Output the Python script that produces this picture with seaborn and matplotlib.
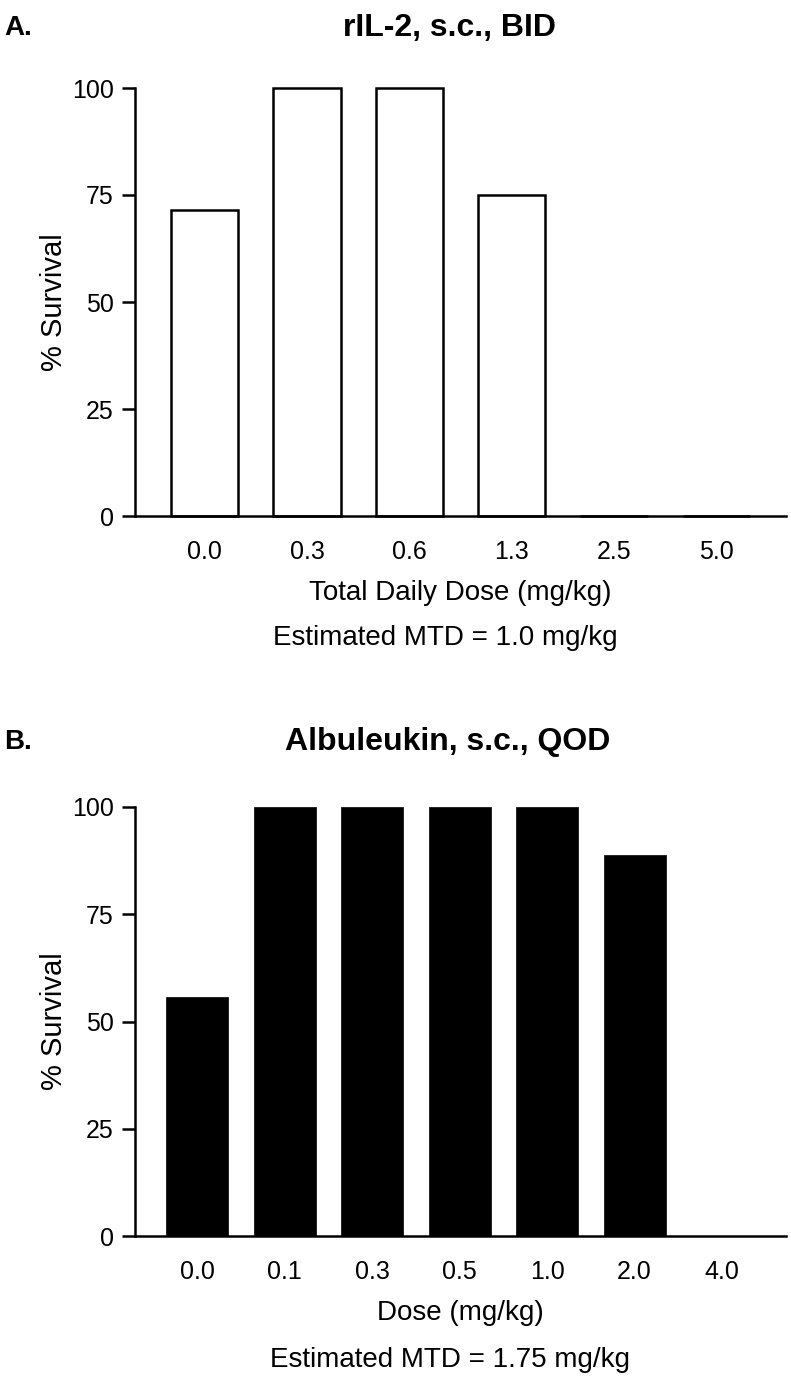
import numpy as np
import pandas as pd
import seaborn as sns
import matplotlib.pyplot as plt

# panel A: rIL-2, s.c., BID
doses_a = ['0.0', '0.3', '0.6', '1.3', '2.5', '5.0']
survival_a = [71.4, 100, 100, 75, 0, 0]

# panel B: Albuleukin, s.c., QOD
doses_b = ['0.0', '0.1', '0.3', '0.5', '1.0', '2.0', '4.0']
survival_b = [55.6, 100, 100, 100, 100, 88.9, 0]

yticks = [0, 25, 50, 75, 100]

sns.set_style('ticks')
plt.rcParams['font.family'] = ['Liberation Sans', 'DejaVu Sans']
for k in ['text.color', 'axes.labelcolor', 'xtick.color', 'ytick.color', 'axes.edgecolor']:
    plt.rcParams[k] = 'black'

W, H = 791, 1386
fig = plt.figure(figsize=(W / 100, H / 100), dpi=100)

axA = fig.add_axes([135 / W, 1 - 516 / H, (786 - 135) / W, 428 / H])
axB = fig.add_axes([135 / W, 1 - 1236 / H, (786 - 135) / W, 429 / H])

df_a = pd.DataFrame({'dose': doses_a, 'survival': survival_a})
df_b = pd.DataFrame({'dose': doses_b, 'survival': survival_b})

sns.barplot(data=df_a, x='dose', y='survival', order=doses_a, color='white',
            edgecolor='black', linewidth=1.8, width=0.66, saturation=1, ax=axA)
sns.barplot(data=df_b, x='dose', y='survival', order=doses_b, color='black',
            edgecolor='black', linewidth=0.5, width=0.71, saturation=1, ax=axB)

for ax, xl, lab in [(axA, (-0.68, 5.68), 'Total Daily Dose (mg/kg)'),
                    (axB, (-0.71, 6.73), 'Dose (mg/kg)')]:
    for p in ax.patches:
        p.set_clip_on(False)
    ax.set_xlim(*xl)
    ax.set_ylim(0, 100)
    ax.set_yticks(yticks)
    sns.despine(ax=ax)
    for s in ['left', 'bottom']:
        ax.spines[s].set_linewidth(1.8)
    ax.tick_params(axis='y', length=9.4, width=1.8, labelsize=18, pad=6)
    ax.tick_params(axis='x', length=0, labelsize=18, pad=17)
    ax.set_ylabel('% Survival', fontsize=21, labelpad=3)
    ax.set_xlabel(lab, fontsize=20, labelpad=12)

fig.text(4 / W, 1 - 28 / H, 'A.', fontsize=20, fontweight='bold', va='center', ha='left')
fig.text(449 / W, 1 - 28 / H, 'rIL-2, s.c., BID', fontsize=23, fontweight='bold',
         va='center', ha='center')
fig.text(445 / W, 1 - 638 / H, 'Estimated MTD = 1.0 mg/kg', fontsize=20,
         va='center', ha='center')

fig.text(4 / W, 1 - 742 / H, 'B.', fontsize=20, fontweight='bold', va='center', ha='left')
fig.text(448 / W, 1 - 742 / H, 'Albuleukin, s.c., QOD', fontsize=23, fontweight='bold',
         va='center', ha='center')
fig.text(450 / W, 1 - 1360 / H, 'Estimated MTD = 1.75 mg/kg', fontsize=20,
         va='center', ha='center')

fig.savefig('out.png', dpi=100, facecolor='white')
